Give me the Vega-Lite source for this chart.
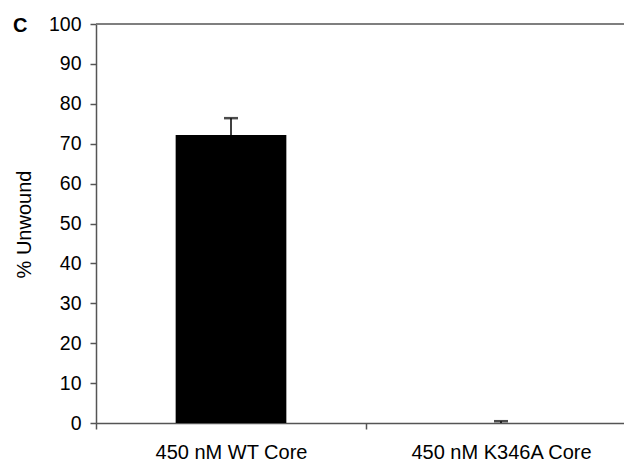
{
  "$schema": "https://vega.github.io/schema/vega-lite/v6.json",
  "width": 528,
  "height": 399,
  "autosize": {"type": "none"},
  "padding": {"left": 96, "top": 24, "right": 0, "bottom": 40},
  "background": "white",
  "title": {"text": "C", "anchor": "start", "orient": "top", "frame": "group", "font": "Liberation Sans", "fontSize": 20, "fontWeight": "bold", "baseline": "middle", "offset": 0, "dx": -83, "dy": 32, "color": "black"},
  "config": {
    "view": {"stroke": null},
    "font": "Liberation Sans",
    "axisX": {"title": null, "labelAngle": 0, "labelFontSize": 20, "labelLimit": 400, "labelColor": "black", "tickBand": "extent", "tickSize": 6, "labelPadding": 13, "domainColor": "#555555", "domainWidth": 1.5, "tickColor": "#555555", "tickWidth": 1.5},
    "axisY": {"grid": false, "titleFontSize": 20, "titleFontWeight": "normal", "titleColor": "black", "titleX": -72, "titleY": 200, "titleBaseline": "middle", "titleAlign": "center", "labelFontSize": 19.5, "labelColor": "black", "tickSize": 6, "labelPadding": 9, "domainColor": "#555555", "domainWidth": 1.5, "tickColor": "#555555", "tickWidth": 1.5, "labelOverlap": false}
  },
  "data": {"values": [
    {"condition": "450 nM WT Core", "unwound": 72.2, "upper": 76.4},
    {"condition": "450 nM K346A Core", "unwound": 0, "upper": 0.45}
  ]},
  "layer": [
    {
      "mark": {"type": "bar", "color": "black", "width": {"band": 0.41}},
      "encoding": {
        "x": {"field": "condition", "type": "nominal", "sort": null,
              "scale": {"range": [0, 540], "paddingInner": 0, "paddingOuter": 0}},
        "y": {"field": "unwound", "type": "quantitative",
              "scale": {"domain": [0, 100], "nice": false},
              "axis": {"values": [0,10,20,30,40,50,60,70,80,90,100], "title": "% Unwound"}}
      }
    },
    {
      "mark": {"type": "rule", "color": "black", "strokeWidth": 1.5},
      "encoding": {
        "x": {"field": "condition", "type": "nominal", "sort": null},
        "y": {"field": "unwound", "type": "quantitative", "axis": {"values": [0,10,20,30,40,50,60,70,80,90,100], "title": "% Unwound"}},
        "y2": {"field": "upper"}
      }
    },
    {
      "mark": {"type": "tick", "orient": "horizontal", "size": 14, "thickness": 2.5, "color": "black"},
      "encoding": {
        "x": {"field": "condition", "type": "nominal", "sort": null},
        "y": {"field": "upper", "type": "quantitative", "axis": {"values": [0,10,20,30,40,50,60,70,80,90,100], "title": "% Unwound"}}
      }
    },
    {
      "mark": {"type": "rule", "color": "#777777", "strokeWidth": 1.5},
      "encoding": {"y": {"datum": 100, "axis": {"values": [0,10,20,30,40,50,60,70,80,90,100], "title": "% Unwound"}}}
    }
  ]
}
